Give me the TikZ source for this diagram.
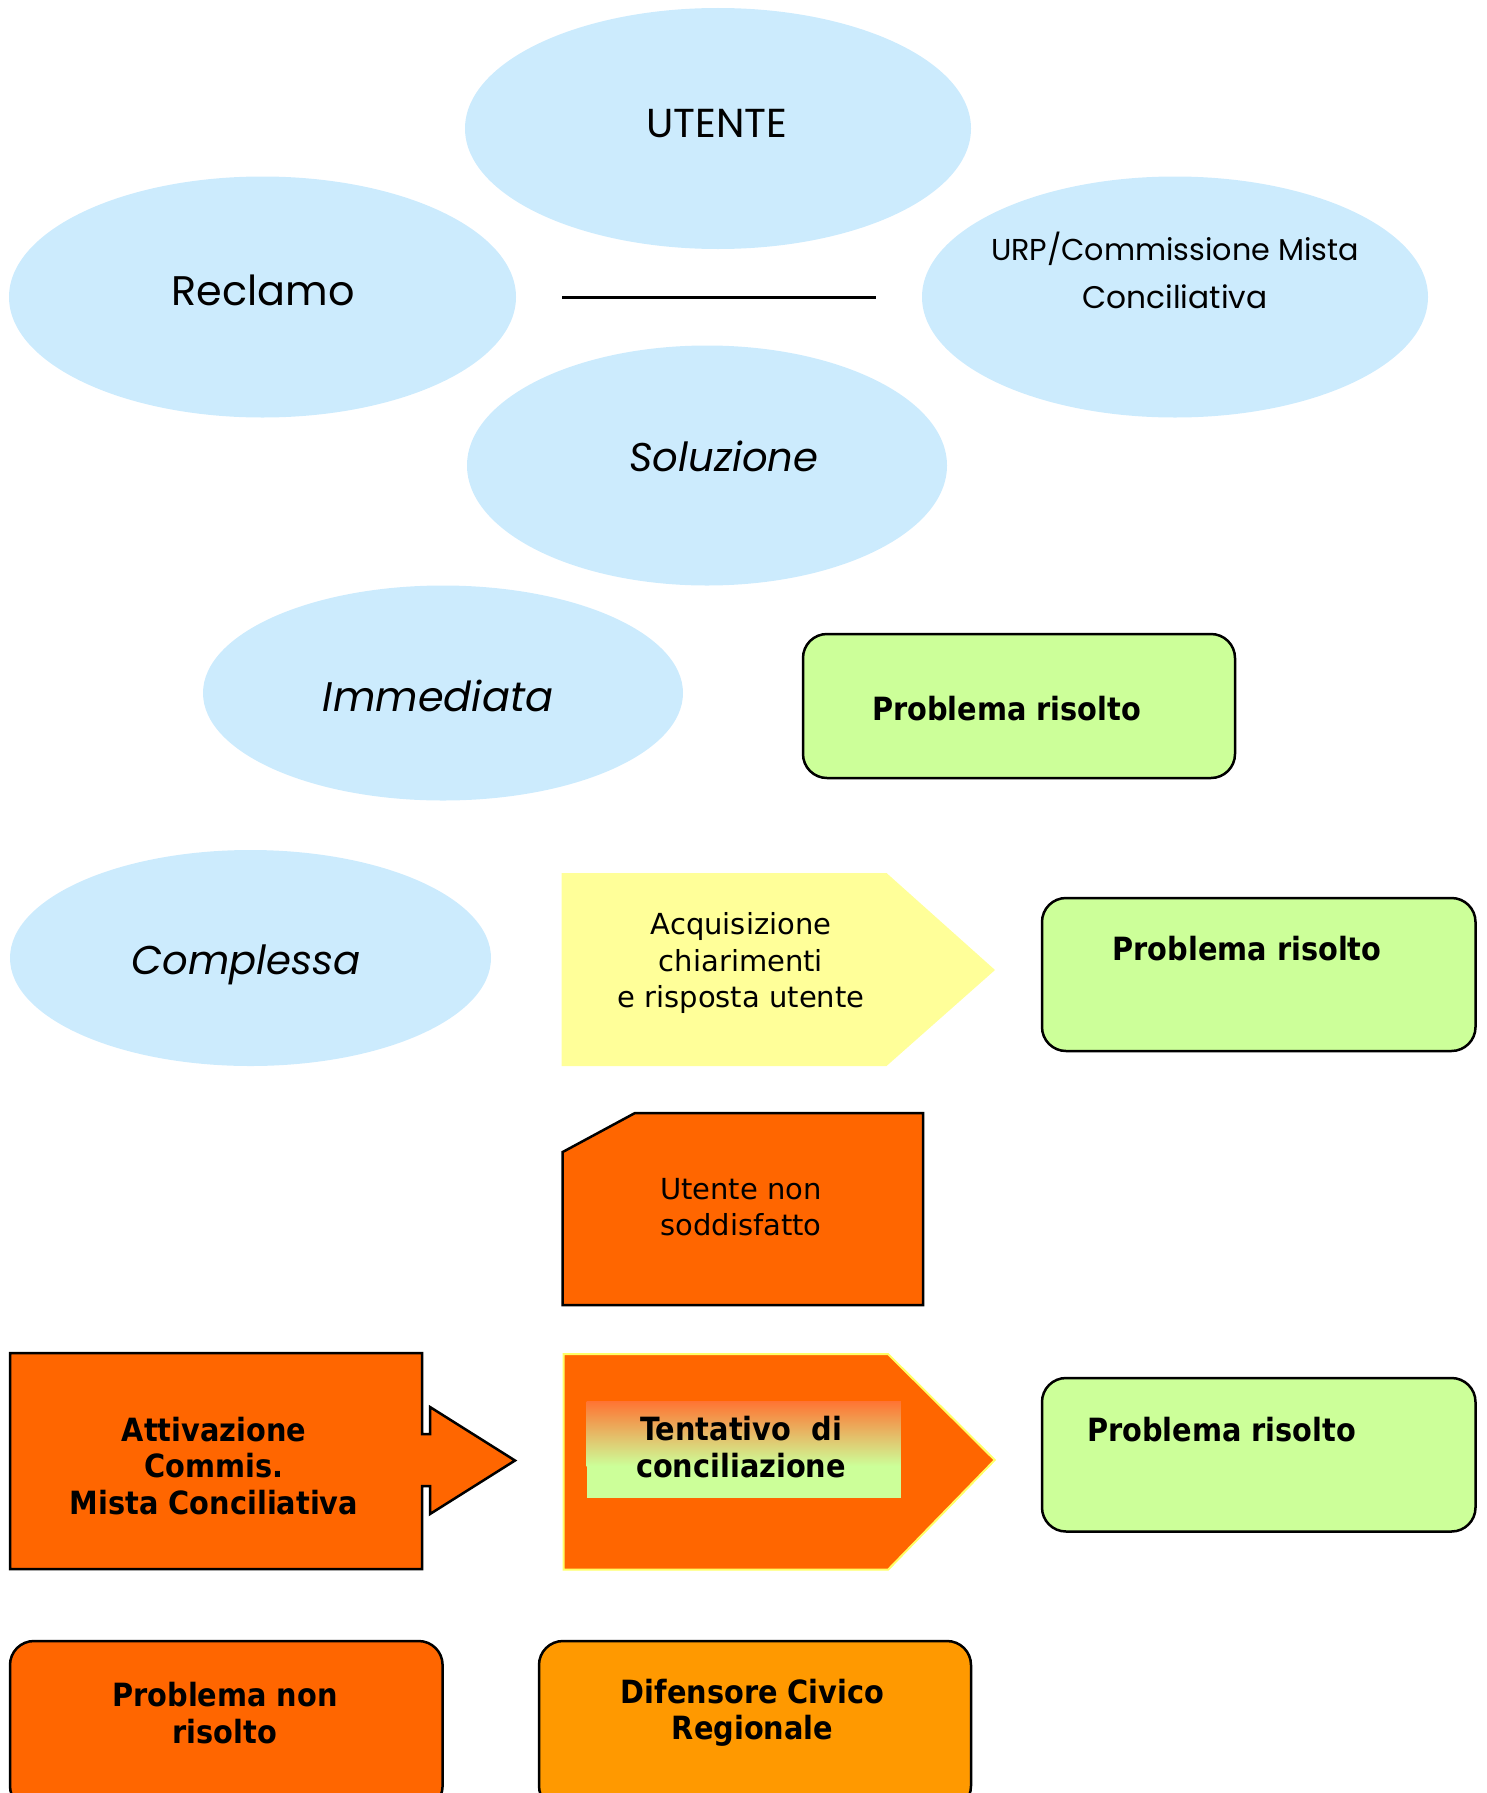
\documentclass[tikz,border=0pt]{standalone}
\usepackage{fontspec}
\setmainfont{DejaVu Sans}
\newfontfamily\geo{Poppins}
\newfontfamily\bfc{DejaVu Sans}[FakeStretch=0.9]
\usetikzlibrary{shapes.geometric}
\definecolor{ellblue}{HTML}{CCEBFD}
\definecolor{lgreen}{HTML}{CCFF99}
\definecolor{lyellow}{HTML}{FFFF99}
\definecolor{orng}{HTML}{FF6600}
\definecolor{orng2}{HTML}{FF9900}
\definecolor{gradtop}{HTML}{FF7433}
\definecolor{bordery}{HTML}{FFFF66}
\tikzset{
  ell/.style={ellipse, fill=ellblue, draw=none, inner sep=0pt},
  geotext/.style={font=\geo\fontsize{40}{48}\selectfont, anchor=base, inner sep=0pt},
  bodytext/.style={font=\fontsize{29}{36.5}\selectfont, align=center, inner sep=0pt},
  boldtext/.style={font=\bfc\fontsize{32}{36.5}\selectfont\bfseries, align=center, inner sep=0pt},
  rbox/.style={draw=black, line width=2.5pt, rounded corners=24pt, inner sep=0pt},
  outl/.style={draw=black, line width=2.5pt, line join=miter},
}
\begin{document}
\begin{tikzpicture}[x=1pt,y=-1pt]
\useasboundingbox (0,0) rectangle (1487,1793);
% ellipses
\node[ell, minimum width=506pt, minimum height=241pt] (utente) at (718,128.5) {};
\node[ell, minimum width=507pt, minimum height=241pt] (reclamo) at (262.5,297) {};
\node[ell, minimum width=506pt, minimum height=241pt] (urp) at (1175,297) {};
\node[ell, minimum width=480pt, minimum height=240pt] (soluzione) at (707,465.5) {};
\node[ell, minimum width=480pt, minimum height=215pt] (immediata) at (443,693) {};
\node[ell, minimum width=481pt, minimum height=216pt] (complessa) at (250.5,958) {};
\node[geotext] (utenteT) at (717,137) {\resizebox{141pt}{!}{UTENTE}};
\node[geotext] (reclamoT) at (263,305) {\resizebox{183pt}{!}{Reclamo}};
\node[geotext, anchor=center, align=center] (urpT) at (1175,270) {\resizebox{368pt}{!}{URP/Commissione Mista}\\\resizebox{185pt}{!}{Conciliativa}};
\node[geotext] (soluzioneT) at (724,471) {\resizebox{189pt}{!}{\itshape Soluzione}};
\node[geotext] (immediataT) at (438,711) {\resizebox{230pt}{!}{\itshape Immediata}};
\node[geotext] (complessaT) at (246,974.5) {\resizebox{229pt}{!}{\itshape Complessa}};
% line
\coordinate (l1) at (562,297.4);
\coordinate (l2) at (876,297.4);
\draw[line width=2.2pt] (l1) -- (l2);
% green boxes
\node[rbox, fill=lgreen, minimum width=432pt, minimum height=144pt] (pr1) at (1019,706) {};
\node[boldtext] (pr1T) at (1006.5,709) {Problema risolto};
\node[rbox, fill=lgreen, minimum width=433.5pt, minimum height=153pt] (pr2) at (1258.75,974.5) {};
\node[boldtext] (pr2T) at (1247,949) {Problema risolto};
\node[rbox, fill=lgreen, minimum width=433.5pt, minimum height=153.5pt] (pr3) at (1258.75,1454.75) {};
\node[boldtext] (pr3T) at (1221.5,1430) {Problema risolto};
% yellow pentagon
\fill[lyellow] (561.6,873) -- (886.5,873) -- (995,970) -- (886.5,1066) -- (561.6,1066) -- cycle;
\node[bodytext] (acqT) at (741,963) {Acquisizione\\chiarimenti\\e risposta utente};
% utente non soddisfatto
\filldraw[outl, fill=orng] (635,1113) -- (923,1113) -- (923,1305) -- (562.7,1305) -- (562.7,1152) -- cycle;
\node[bodytext] (nonsT) at (741,1207) {Utente non\\soddisfatto};
% attivazione arrow
\filldraw[outl, fill=orng] (10,1353) -- (422,1353) -- (422,1434) -- (430,1434) -- (430,1407) -- (515,1460.5) -- (430,1514) -- (430,1486) -- (422,1486) -- (422,1569) -- (10,1569) -- cycle;
\node[boldtext] (attT) at (214,1466) {Attivazione\\Commis.\\Mista Conciliativa};
% tentativo pentagon
\filldraw[draw=bordery, line width=2pt, fill=orng] (563.6,1354) -- (888,1354) -- (994.7,1460) -- (888,1569.7) -- (563.6,1569.7) -- cycle;
\shade[top color=gradtop, bottom color=lgreen] (586.6,1401.3) rectangle (900.8,1466);
\fill[lgreen] (586.6,1465.5) rectangle (900.8,1498);
\node[boldtext] (tentT) at (741,1447) {Tentativo~~di\\conciliazione};
% bottom boxes
\node[rbox, fill=orng, minimum width=432.6pt, minimum height=169pt] (pnr) at (226.3,1725.5) {};
\node[boldtext] (pnrT) at (225,1713) {Problema non\\risolto};
\node[rbox, fill=orng2, minimum width=432pt, minimum height=169pt] (dif) at (755,1725.5) {};
\node[boldtext] (difT) at (752.6,1713) {Difensore Civico\\Regionale};
\end{tikzpicture}
\end{document}
